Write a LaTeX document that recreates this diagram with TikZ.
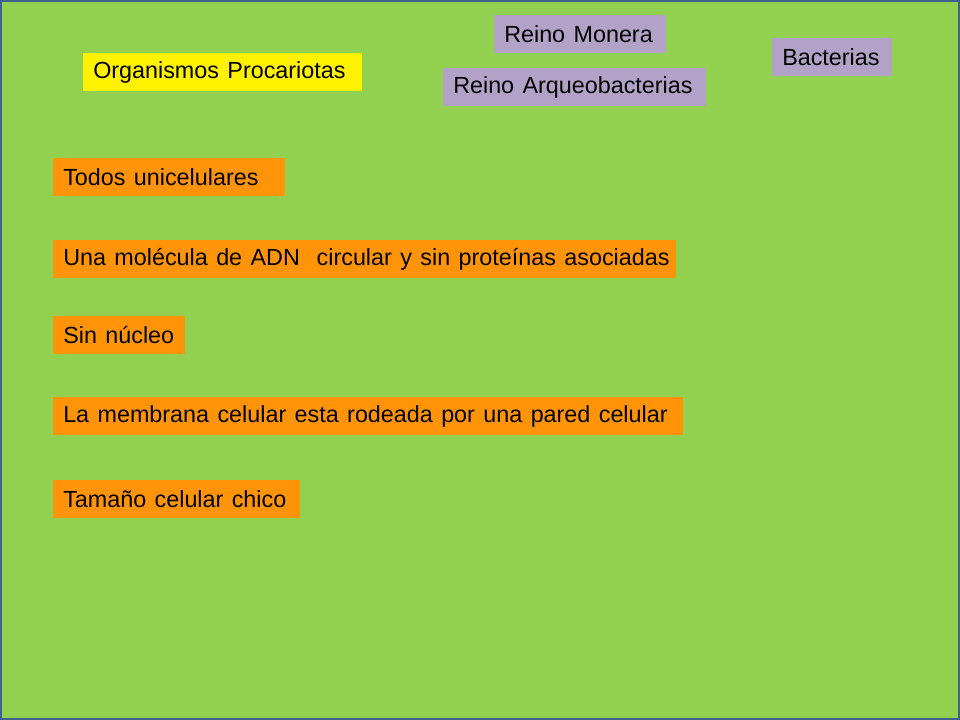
\documentclass[tikz,border=0pt]{standalone}
\usepackage{fontspec}
\setmainfont[WordSpace=1.3]{Liberation Sans}
\definecolor{slidegreen}{HTML}{92D050}
\definecolor{slideframe}{HTML}{41628F}
\definecolor{lavender}{HTML}{B3A2C7}
\definecolor{boxorange}{HTML}{FF9408}
\begin{document}
\begin{tikzpicture}[x=0.75pt, y=-0.75pt,
  box/.style={anchor=north west, inner xsep=7.5pt, inner ysep=0pt,
    minimum height=28.5pt, align=flush left, font=\fontsize{17.5}{21}\selectfont},
  titlebox/.style={box, fill=yellow},
  kingdom/.style={box, fill=lavender},
  trait/.style={box, fill=boxorange}]

\useasboundingbox (0, 0) rectangle (960, 720);
\draw[fill=slidegreen, draw=slideframe, line width=1.5pt] (1, 1) rectangle (959, 719);

\node[titlebox, text width=194.25pt] (procariotas) at (83, 53) {\mbox{Organismos Procariotas}};

\node[kingdom, text width=114pt] (monera) at (494, 15) {\mbox{Reino Monera}};
\node[kingdom, text width=182.25pt] (arqueo) at (443, 68) {\mbox{Reino Arqueobacterias}};
\node[kingdom, text width=75pt] (bacterias) at (772, 38) {\mbox{Bacterias}};
%
\node[trait, text width=159pt] (unicel) at (53, 158) {\mbox{Todos unicelulares}};
\node[trait, text width=452.25pt] (adn) at (53, 240) {\mbox{Una molécula de ADN\ \ circular y sin proteínas asociadas}};
\node[trait, text width=84pt] (nucleo) at (53, 316) {\mbox{Sin núcleo}};
\node[trait, text width=457.5pt] (membrana) at (53, 397) {\mbox{La membrana celular esta rodeada por una pared celular}};
\node[trait, text width=170.25pt] (tamano) at (53, 480) {\mbox{Tamaño celular chico}};

\end{tikzpicture}
\end{document}
